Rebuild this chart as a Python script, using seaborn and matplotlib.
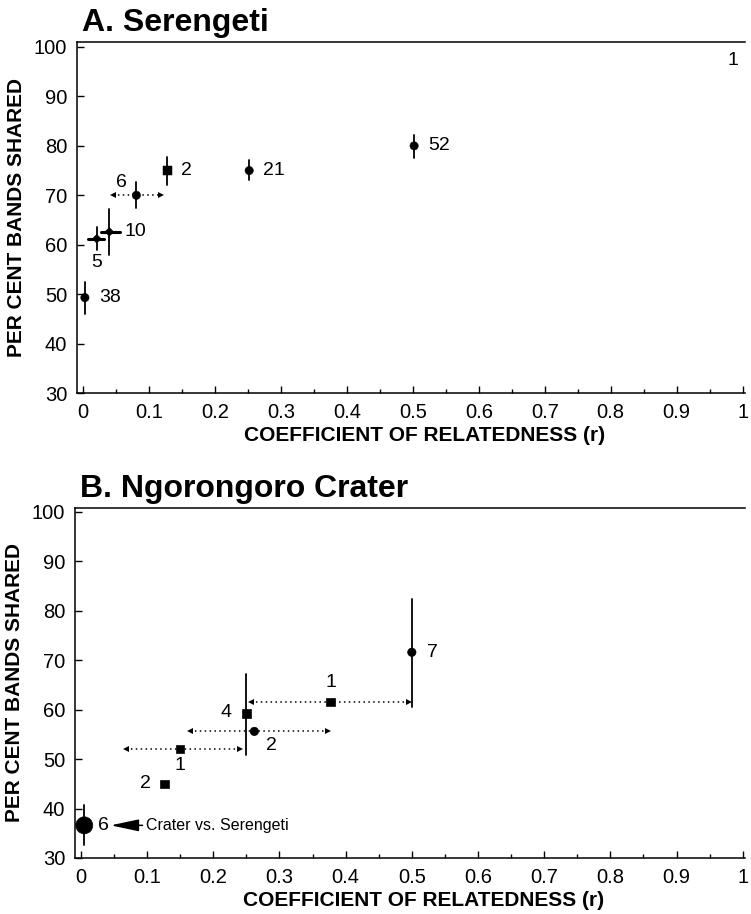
import numpy as np
import pandas as pd
import matplotlib
matplotlib.use('Agg')
import matplotlib.pyplot as plt
import seaborn as sns

# Panel A: Serengeti
A_r = [0.003, 0.021, 0.040, 0.081, 0.128, 0.252, 0.502]
A_pct = [49.3, 61.2, 62.6, 70.0, 75.0, 75.0, 80.0]
A_lo = [46.0, 59.0, 58.0, 67.5, 72.0, 73.0, 77.5]
A_hi = [52.4, 63.6, 67.2, 72.6, 77.8, 77.2, 82.2]
A_n = ['38', '5', '10', '6', '2', '21', '52']
A_kind = ['circle', 'diamond', 'diamond', 'circle', 'square', 'circle', 'circle']
# horizontal ranges (index, r_lo, r_hi, dotted)
A_hrange = [(1, 0.008, 0.032, False), (2, 0.027, 0.056, False), (3, 0.045, 0.118, True)]

# Panel B: Ngorongoro Crater
B_r = [0.005, 0.126, 0.150, 0.250, 0.262, 0.377, 0.500]
B_pct = [36.6, 45.0, 52.1, 59.2, 55.6, 61.6, 71.6]
B_n = ['6', '2', '1', '4', '2', '1', '7']
B_kind = ['big', 'square', 'square', 'square', 'circle', 'square', 'circle']
B_vrange = [(0, 32.6, 40.8), (3, 50.9, 67.3), (6, 60.6, 82.3)]
B_hrange = [(2, 0.068, 0.240), (4, 0.165, 0.373), (5, 0.257, 0.495)]

# label offsets in points (dx, dy, ha)
A_off = [(10, 0, 'left'), (0, -17, 'center'), (11, 0, 'left'), (-11, 9, 'center'),
         (10, 0, 'left'), (10, 0, 'left'), (10, 0, 'left')]
B_off = [(10, 0, 'left'), (-10, 0, 'right'), (0, -12, 'center'), (-11, 1, 'right'),
         (12, -10, 'center'), (0, 14, 'center'), (11, 0, 'left')]

sns.set_style('ticks', {'text.color': 'black', 'axes.labelcolor': 'black',
                        'xtick.color': 'black', 'ytick.color': 'black',
                        'axes.edgecolor': 'black'})
plt.rcParams['font.family'] = ['Liberation Sans', 'DejaVu Sans']

fig = plt.figure(figsize=(7.51, 9.14), dpi=100)
axA = fig.add_axes([0.1025, 0.570, 0.8895, 0.384])
axB = fig.add_axes([0.0999, 0.0613, 0.8921, 0.383])

MARKERS = {'circle': 'o', 'square': 's', 'diamond': 'D', 'big': 'o'}
SIZES = {'circle': 36, 'square': 36, 'diamond': 20, 'big': 150}


def dotted_arrows(ax, y, x0, x1):
    ax.plot([x0, x1], [y, y], color='black', lw=1.1, ls=(0, (1, 2.2)))
    ax.plot([x0], [y], marker='<', color='black', ms=4.5, mew=0)
    ax.plot([x1], [y], marker='>', color='black', ms=4.5, mew=0)


def style_axes(ax, title, ymax):
    ax.set_xlim(-0.009, 1.0035)
    ax.set_ylim(30, ymax)
    ax.set_xticks(np.arange(0, 1.01, 0.1))
    ax.set_xticklabels(['0'] + ['%.1f' % v for v in np.arange(0.1, 0.95, 0.1)] + ['1'])
    ax.set_xticks(np.arange(0.05, 1.0, 0.1), minor=True)
    ax.set_yticks(np.arange(30, 101, 10))
    ax.tick_params(axis='both', which='major', direction='in', length=5, width=1,
                   labelsize=14.5, pad=7, color='black', labelcolor='black')
    ax.tick_params(axis='x', which='minor', direction='in', length=3, width=1, color='black')
    ax.spines['right'].set_visible(False)
    for s in ['left', 'bottom', 'top']:
        ax.spines[s].set_linewidth(1.1)
        ax.spines[s].set_color('black')
    ax.set_xlabel('COEFFICIENT OF RELATEDNESS (r)', fontsize=15, fontweight='bold')
    ax.xaxis.set_label_coords(0.52, -0.093)
    ax.set_ylabel('PER CENT BANDS SHARED', fontsize=15, fontweight='bold', labelpad=6)
    ax.text(0.008, 1.012, title, transform=ax.transAxes, fontsize=23, fontweight='bold',
            ha='left', va='bottom', color='black')


# ---- Panel A ----
dfA = pd.DataFrame({'r': A_r, 'pct': A_pct, 'kind': A_kind})
for i in range(len(A_r)):
    axA.plot([A_r[i], A_r[i]], [A_lo[i], A_hi[i]], color='black', lw=1.3)
for i, x0, x1, dotted in A_hrange:
    if dotted:
        dotted_arrows(axA, A_pct[i], x0, x1)
    else:
        axA.plot([x0, x1], [A_pct[i], A_pct[i]], color='black', lw=2.2)
sns.scatterplot(data=dfA, x='r', y='pct', style='kind', markers=MARKERS, size='kind',
                sizes=SIZES, color='black', edgecolor='black', legend=False, ax=axA, zorder=3)
for i, lab in enumerate(A_n):
    dx, dy, ha = A_off[i]
    axA.annotate(lab, (A_r[i], A_pct[i]), xytext=(dx, dy), textcoords='offset points',
                 ha=ha, va='center', fontsize=14)
axA.text(0.985, 97.3, '1', ha='center', va='center', fontsize=14)
style_axes(axA, 'A. Serengeti', 101)

# ---- Panel B ----
dfB = pd.DataFrame({'r': B_r, 'pct': B_pct, 'kind': B_kind})
for i, lo, hi in B_vrange:
    axB.plot([B_r[i], B_r[i]], [lo, hi], color='black', lw=1.3)
for i, x0, x1 in B_hrange:
    dotted_arrows(axB, B_pct[i], x0, x1)
sns.scatterplot(data=dfB, x='r', y='pct', style='kind', markers=MARKERS, size='kind',
                sizes=SIZES, color='black', edgecolor='black', legend=False, ax=axB, zorder=3)
for i, lab in enumerate(B_n):
    dx, dy, ha = B_off[i]
    axB.annotate(lab, (B_r[i], B_pct[i]), xytext=(dx, dy), textcoords='offset points',
                 ha=ha, va='center', fontsize=14)
axB.annotate('Crater vs. Serengeti', xy=(0.045, B_pct[0]), xytext=(0.098, B_pct[0]),
             ha='left', va='center', fontsize=11.5,
             arrowprops=dict(arrowstyle='-|>,head_length=1.5,head_width=0.32',
                             color='black', lw=1.1, shrinkA=0, shrinkB=0))
style_axes(axB, 'B. Ngorongoro Crater', 100.8)

fig.savefig('out.png', dpi=100)
